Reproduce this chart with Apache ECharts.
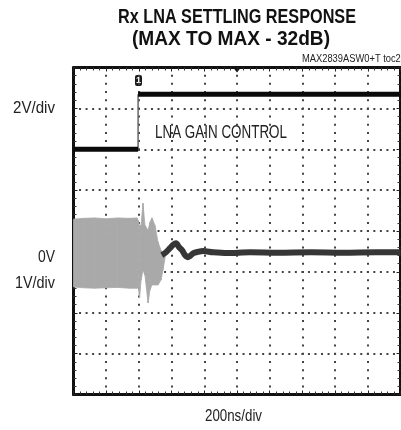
<!DOCTYPE html>
<html><head><meta charset="utf-8">
<script src="https://cdn.jsdelivr.net/npm/echarts@6/dist/echarts.min.js"></script>
<style>html,body{margin:0;padding:0;background:#fff}#c{width:401px;height:430px}</style>
</head><body><div id="c"></div>
<script>
// ---- data (time in ns, 200 ns/div) ----
var xTicksNs = [0, 200, 400, 600, 800, 1000, 1200, 1400, 1600, 1800, 2000];
// CH1: LNA gain control, 2 V/div
var ch1Time = [0, 395, 395, 2000];
var ch1Volt = [0, 0, 2.69, 2.69];
// CH2: RF output envelope (before / during switching), 1 V/div
var envTime  = [0, 60, 130, 200, 270, 340, 388, 396, 404, 413, 425, 437, 456, 468, 480, 498, 517, 535, 547, 560];
var envUpper = [0.83, 0.85, 0.86, 0.84, 0.86, 0.85, 0.86, 0.80, 0.66, 0.68, 1.22, 0.68, 0.56, 0.76, 0.86, 0.68, 0.27, 0.07, 0.00, -0.02];
var envLower = [-0.83, -0.85, -0.86, -0.85, -0.84, -0.86, -0.86, -0.84, -1.10, -0.66, -0.42, -0.54, -1.22, -0.90, -0.78, -0.78, -0.78, -0.66, -0.42, -0.12];
// CH2: settled RF output (after switching)
var settleTime = [540, 560, 590, 609, 627, 645, 664, 682, 697, 713, 734, 761, 792, 853, 939, 1080, 1250, 1450, 1650, 1850, 2000];
var settleVolt = [-0.05, 0.0, 0.12, 0.20, 0.24, 0.15, 0.07, -0.05, -0.10, -0.07, 0.0, 0.03, 0.05, 0.02, 0.0, 0.02, 0.01, 0.02, 0.01, 0.02, 0.02];
// labels
var titleLine1 = 'Rx LNA SETTLING RESPONSE';
var titleLine2 = '(MAX TO MAX - 32dB)';
var tocText = 'MAX2839ASW0+T toc29';
var traceLabel = 'LNA GAIN CONTROL';
var xLabel = '200ns/div';
var ch1Scale = '2V/div';
var ch2Zero = '0V';
var ch2Scale = '1V/div';

var fam = '"Liberation Sans", Arial, sans-serif';

// condensed text helper (scales a regular face horizontally to a target width)
var mctx = document.createElement('canvas').getContext('2d');
function condText(text, font, x, y, targetW, align, fill) {
  mctx.font = font;
  var w = mctx.measureText(text).width;
  return {type: 'text', x: x, y: y, scaleX: targetW / w, scaleY: 1,
    style: {text: text, font: font, fill: fill || '#1e1e1e', align: align, verticalAlign: 'middle'}};
}

// build ch1 thick levels and thin edges
var ch1Levels = [], ch1Edges = [];
for (var i = 0; i < ch1Time.length; i++) {
  if (i > 0 && ch1Time[i] === ch1Time[i - 1]) {
    ch1Levels.push(['-', '-']);
    ch1Edges.push([ch1Time[i - 1], ch1Volt[i - 1]], [ch1Time[i], ch1Volt[i]]);
  }
  ch1Levels.push([ch1Time[i], ch1Volt[i]]);
}
var envData = envTime.map(function (t, i) { return [t, envUpper[i], envLower[i], i]; });
var settleData = settleTime.map(function (t, i) { return [t, settleVolt[i]]; });

var chart = echarts.init(document.getElementById('c'), null, {renderer: 'canvas'});
var gridAxisX = function (pos, split) {
  return {
    type: 'value', position: pos, min: 0, max: 2000, interval: 200,
    axisLabel: {show: false},
    axisLine: {show: true, onZero: false, lineStyle: {color: '#111', width: 3}},
    axisTick: {show: true, inside: true, length: 4, lineStyle: {color: '#222'}},
    minorTick: {show: true, splitNumber: 5, length: 3, lineStyle: {color: '#333'}},
    splitLine: {show: split, lineStyle: {color: '#444', width: 2, type: [2, 6.18], dashOffset: 1}}
  };
};
var gridAxisY = function (pos, split) {
  return {
    type: 'value', position: pos, min: 0, max: 8, interval: 1,
    axisLabel: {show: false},
    axisLine: {show: true, onZero: false, lineStyle: {color: '#111', width: 3}},
    axisTick: {show: true, inside: true, length: 4, lineStyle: {color: '#222'}},
    minorTick: {show: true, splitNumber: 5, length: 3, lineStyle: {color: '#333'}},
    splitLine: {show: split, lineStyle: {color: '#444', width: 2, type: [2, 4.54], dashOffset: 1}}
  };
};

function renderBand(params, api) {
  var i = api.value(3);
  if (i >= envTime.length - 1) return null;
  var p1 = api.coord([api.value(0), api.value(1)]);
  var p2 = api.coord([envTime[i + 1], envUpper[i + 1]]);
  var p3 = api.coord([envTime[i + 1], envLower[i + 1]]);
  var p4 = api.coord([api.value(0), api.value(2)]);
  return {
    type: 'polygon',
    shape: {points: [p1, p2, p3, p4]},
    style: {fill: '#a9a9a9', stroke: '#a9a9a9', lineWidth: 0.8}
  };
}

chart.setOption({
  animation: false,
  backgroundColor: '#fff',
  grid: {left: 73.5, right: 0.5, top: 67.5, bottom: 35.5},
  xAxis: [gridAxisX('bottom', true), gridAxisX('top', false)],
  yAxis: [
    gridAxisY('left', true),
    gridAxisY('right', false),
    {type: 'value', min: -12, max: 4, show: false},
    {type: 'value', min: -3.46, max: 4.54, show: false}
  ],
  series: [
    {type: 'custom', yAxisIndex: 3, data: envData, renderItem: renderBand, silent: true,
     encode: {x: 0, y: [1, 2]}, clip: true},
    {type: 'line', yAxisIndex: 3, data: settleData, symbol: 'none', smooth: 0.3,
     lineStyle: {width: 6, color: '#363636'}, silent: true},
    {type: 'line', yAxisIndex: 2, data: ch1Edges, symbol: 'none',
     lineStyle: {width: 1.5, color: '#666'}, silent: true},
    {type: 'line', yAxisIndex: 2, data: ch1Levels, symbol: 'none', connectNulls: false,
     lineStyle: {width: 5, color: '#0a0a0a'}, silent: true}
  ],
  graphic: [
    condText(titleLine1, 'bold 20px ' + fam, 237, 17, 238, 'center', '#111'),
    condText(titleLine2, 'bold 20px ' + fam, 231, 39, 198, 'center', '#111'),
    condText(tocText, '10px ' + fam, 302, 59.5, 104, 'left', '#222'),
    condText(traceLabel, '19px ' + fam, 155, 132.5, 132, 'left', '#222'),
    condText(xLabel, '17px ' + fam, 233.5, 416, 57, 'center', '#222'),
    condText(ch1Scale, '17px ' + fam, 55, 108, 42, 'right', '#222'),
    condText(ch2Zero, '17px ' + fam, 55, 257, 17, 'right', '#222'),
    condText(ch2Scale, '17px ' + fam, 55, 283, 40, 'right', '#222'),
    {type: 'rect', shape: {x: 135, y: 75, width: 7, height: 11, r: 2}, style: {fill: '#1a1a1a'}},
    {type: 'text', x: 138.5, y: 81, style: {text: '1', font: 'bold 9px ' + fam, fill: '#fff', align: 'center', verticalAlign: 'middle'}},
    {type: 'polygon', shape: {points: [[233.5, 68], [240.5, 68], [237, 72.5]]}, style: {fill: '#111'}},
    {type: 'rect', shape: {x: 73, y: 251.5, width: 7, height: 3}, style: {fill: '#111'}},
    {type: 'polygon', shape: {points: [[401, 248], [401, 257], [396, 252.5]]}, style: {fill: '#111'}}
  ]
});
</script></body></html>
